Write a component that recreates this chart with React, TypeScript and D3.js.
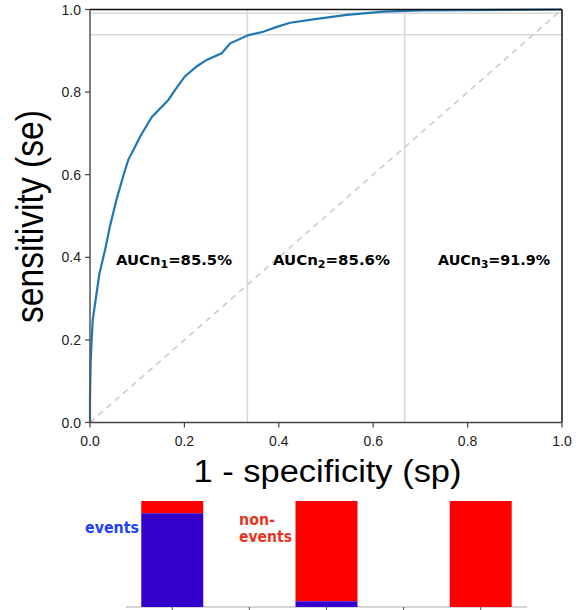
import React from "react";
import * as d3 from "d3";

const fpr = [0, 0, 0.0015, 0.0036, 0.0057, 0.014, 0.02, 0.032, 0.042, 0.056, 0.072, 0.081, 0.092, 0.106, 0.131, 0.166, 0.18, 0.201, 0.226, 0.247, 0.279, 0.297, 0.336, 0.367, 0.396, 0.424, 0.473, 0.544, 0.622, 0.7, 1.0];
const tpr = [0, 0.06, 0.151, 0.2, 0.248, 0.313, 0.361, 0.418, 0.474, 0.539, 0.603, 0.636, 0.66, 0.692, 0.74, 0.781, 0.805, 0.838, 0.862, 0.878, 0.894, 0.918, 0.938, 0.946, 0.958, 0.968, 0.976, 0.987, 0.995, 0.998, 1.0];

const axisTicks = [0, 0.2, 0.4, 0.6, 0.8, 1.0];
const vLines = [1 / 3, 2 / 3];
const hLines = [0.939, 0.991];

const aucLabels = ["85.5%", "85.6%", "91.9%"];
const aucSubs = ["1", "2", "3"];

const barPositions = [0, 2, 4];
const barEvents = [0.884, 0.054, 0];
const barTicks = [0, 1, 2, 3, 4];

export default function App() {
  const x = d3.scaleLinear().domain([0, 1]).range([90, 562]);
  const y = d3.scaleLinear().domain([0, 1]).range([422.5, 9.5]);
  const pts: [number, number][] = fpr.map((f, i) => [f, tpr[i]]);
  const line = d3.line<[number, number]>().x((d) => x(d[0])).y((d) => y(d[1]));

  const bx = d3.scaleLinear().domain([-0.6, 4.6]).range([126, 527]);
  const by = d3.scaleLinear().domain([0, 1]).range([607, 501]);
  const barW = 62;

  const tickFont = "'Liberation Sans', Arial, sans-serif";
  const boldFont = "'DejaVu Sans', Verdana, sans-serif";
  const aucX = [116, 273, 438];
  const aucW = [116, 117, 112];

  return (
    <svg width={586} height={610} style={{ position: "absolute", left: 0, top: 0, background: "#fff" }}>
      {vLines.map((v, i) => (
        <line key={"v" + i} x1={x(v)} x2={x(v)} y1={y(0)} y2={y(1)} stroke="#d9d9d9" strokeWidth={1.6} />
      ))}
      {hLines.map((h, i) => (
        <line key={"h" + i} x1={x(0)} x2={x(1)} y1={y(h)} y2={y(h)} stroke="#d9d9d9" strokeWidth={1.6} />
      ))}
      <line x1={x(0)} y1={y(0)} x2={x(1)} y2={y(1)} stroke="#cccccc" strokeWidth={1.6} strokeDasharray="6,5" />
      <path d={line(pts) || ""} fill="none" stroke="#1f77b4" strokeWidth={2.2} />
      <line x1={x(0)} x2={x(1)} y1={y(1)} y2={y(1)} stroke="#111" strokeWidth={1.5} />
      <line x1={x(1)} x2={x(1)} y1={y(0)} y2={y(1)} stroke="#111" strokeWidth={1.5} />
      <line x1={x(0)} x2={x(0)} y1={y(0)} y2={y(1)} stroke="#555" strokeWidth={1.5} />
      <line x1={x(0)} x2={x(1)} y1={y(0)} y2={y(0)} stroke="#444" strokeWidth={1.5} />
      {axisTicks.map((t, i) => (
        <g key={"xt" + i}>
          <line x1={x(t)} x2={x(t)} y1={y(0)} y2={y(0) + 5} stroke="#444" strokeWidth={1.2} />
          <text x={x(t)} y={446} textAnchor="middle" fontSize={14} fontFamily={tickFont} fill="#222">
            {d3.format(".1f")(t)}
          </text>
          <line x1={x(0) - 5} x2={x(0)} y1={y(t)} y2={y(t)} stroke="#444" strokeWidth={1.2} />
          <text x={81} y={y(t) + 5} textAnchor="end" fontSize={14} fontFamily={tickFont} fill="#222">
            {d3.format(".1f")(t)}
          </text>
        </g>
      ))}
      <text
        x={327.5}
        y={482}
        textAnchor="middle"
        fontSize={31}
        fontFamily={tickFont}
        fill="#000"
        textLength={268}
        lengthAdjust="spacingAndGlyphs"
      >
        1 - specificity (sp)
      </text>
      <text
        transform="translate(43,216.5) rotate(-90)"
        textAnchor="middle"
        fontSize={39}
        fontFamily={tickFont}
        fill="#000"
        textLength={213}
        lengthAdjust="spacingAndGlyphs"
      >
        sensitivity (se)
      </text>
      {aucLabels.map((l, i) => (
        <text
          key={"auc" + i}
          x={aucX[i]}
          y={265}
          fontSize={13.5}
          fontWeight="bold"
          fontFamily={boldFont}
          fill="#000"
          textLength={aucW[i]}
          lengthAdjust="spacingAndGlyphs"
        >
          AUCn
          <tspan fontSize={10} dy={3}>{aucSubs[i]}</tspan>
          <tspan dy={-3}>={l}</tspan>
        </text>
      ))}
      <line x1={126} x2={527} y1={607} y2={607} stroke="#aaa" strokeWidth={1.2} />
      {barTicks.map((t, i) => (
        <line key={"bt" + i} x1={bx(t)} x2={bx(t)} y1={607} y2={610} stroke="#555" strokeWidth={1} />
      ))}
      {barPositions.map((p, i) => (
        <g key={"bar" + i}>
          <rect x={bx(p) - barW / 2} y={by(1)} width={barW} height={by(barEvents[i]) - by(1)} fill="#ff0000" />
          <rect x={bx(p) - barW / 2} y={by(barEvents[i])} width={barW} height={by(0) - by(barEvents[i])} fill="#3300cc" />
        </g>
      ))}
      <text x={139} y={533} textAnchor="end" fontSize={15} fontWeight="bold" fontFamily={boldFont} fill="#1f3fff" textLength={54} lengthAdjust="spacingAndGlyphs">
        events
      </text>
      <text x={239} y={525} fontSize={15} fontWeight="bold" fontFamily={boldFont} fill="#e8341c" textLength={36} lengthAdjust="spacingAndGlyphs">
        non-
      </text>
      <text x={239} y={542} fontSize={15} fontWeight="bold" fontFamily={boldFont} fill="#e8341c" textLength={53} lengthAdjust="spacingAndGlyphs">
        events
      </text>
    </svg>
  );
}
